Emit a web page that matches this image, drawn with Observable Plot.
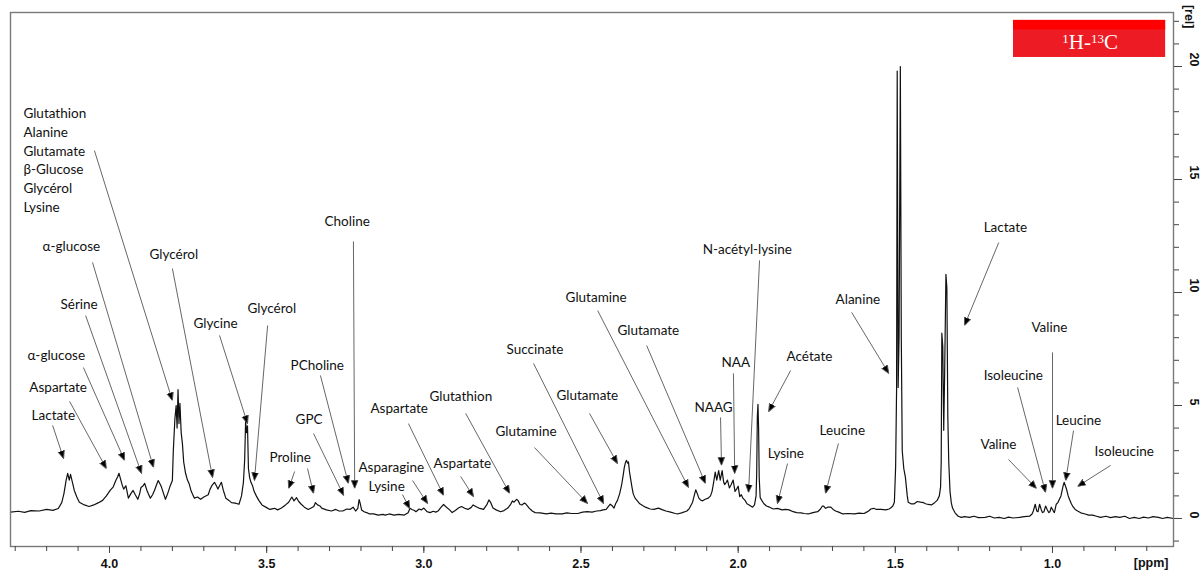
<!DOCTYPE html>
<html>
<head>
<meta charset="utf-8">
<script src="https://cdn.jsdelivr.net/npm/d3@7"></script>
<script src="https://cdn.jsdelivr.net/npm/@observablehq/plot@0.6"></script>
<style>
  html, body { margin: 0; padding: 0; background: #fff; }
  #chart svg { display: block; }
</style>
</head>
<body>
<div id="chart"></div>
<script>
// ---- data: 1H NMR spectrum (ppm, relative intensity) ----
const spectrum = [
  [4.315,0.28],[4.29,0.32],[4.27,0.27],[4.25,0.35],[4.224,0.33],[4.20,0.40],[4.18,0.36],[4.163,0.44],
  [4.152,0.7],[4.145,1.1],[4.138,1.7],[4.133,2.0],[4.128,1.7],[4.124,1.95],[4.118,1.6],[4.112,1.24],
  [4.104,0.95],[4.096,0.72],[4.08,0.6],[4.065,0.53],[4.05,0.6],[4.035,0.7],[4.022,0.8],[4.01,1.0],
  [3.998,1.24],[3.988,1.4],[3.98,1.68],[3.974,1.85],[3.970,2.0],[3.965,1.75],[3.96,1.5],[3.955,1.3],
  [3.948,1.45],[3.94,0.9],[3.932,1.1],[3.925,1.24],[3.918,1.05],[3.91,0.85],[3.904,1.1],[3.90,1.37],
  [3.893,1.45],[3.888,1.55],[3.88,1.2],[3.87,0.9],[3.863,1.05],[3.857,1.24],[3.85,1.5],[3.845,1.68],
  [3.84,1.55],[3.835,1.4],[3.828,1.1],[3.822,0.85],[3.815,1.1],[3.808,1.4],[3.80,1.68],[3.797,3.0],
  [3.792,4.4],[3.788,5.0],[3.785,4.0],[3.782,5.7],[3.779,4.2],[3.776,5.1],[3.772,3.8],[3.768,3.3],
  [3.764,2.5],[3.758,2.0],[3.752,1.7],[3.747,1.55],[3.74,1.2],[3.73,0.9],[3.72,0.95],[3.71,0.85],
  [3.70,0.95],[3.686,1.05],[3.68,1.3],[3.674,1.46],[3.666,1.6],[3.66,1.45],[3.655,1.3],[3.65,1.45],
  [3.644,1.6],[3.638,1.25],[3.63,0.9],[3.62,0.8],[3.612,0.7],[3.60,0.68],[3.588,0.63],[3.58,1.0],
  [3.574,1.6],[3.570,2.6],[3.567,4.3],[3.564,3.8],[3.561,4.1],[3.558,2.2],[3.554,1.8],[3.55,1.6],
  [3.545,1.45],[3.54,1.2],[3.533,1.0],[3.525,0.8],[3.515,0.6],[3.50,0.48],[3.49,0.4],[3.475,0.45],
  [3.465,0.38],[3.453,0.46],[3.44,0.6],[3.43,0.72],[3.42,0.95],[3.413,0.78],[3.405,0.92],[3.398,0.75],
  [3.39,0.63],[3.38,0.5],[3.368,0.4],[3.36,0.45],[3.35,0.53],[3.345,0.7],[3.338,0.6],[3.33,0.55],
  [3.325,0.46],[3.31,0.38],[3.294,0.33],[3.28,0.4],[3.27,0.33],[3.258,0.33],[3.245,0.42],[3.235,0.4],
  [3.225,0.5],[3.217,0.33],[3.21,0.45],[3.206,0.84],[3.203,0.7],[3.198,0.38],[3.19,0.3],[3.18,0.25],
  [3.173,0.2],[3.16,0.2],[3.145,0.15],[3.13,0.18],[3.123,0.15],[3.11,0.2],[3.095,0.15],[3.08,0.18],
  [3.062,0.15],[3.05,0.25],[3.044,0.45],[3.038,0.4],[3.03,0.35],[3.025,0.3],[3.015,0.42],[3.008,0.38],
  [3.0,0.46],[2.99,0.3],[2.98,0.26],[2.97,0.32],[2.962,0.28],[2.955,0.33],[2.945,0.5],[2.937,0.62],
  [2.932,0.55],[2.925,0.46],[2.918,0.38],[2.91,0.26],[2.90,0.35],[2.89,0.46],[2.88,0.53],[2.87,0.45],
  [2.86,0.4],[2.85,0.48],[2.843,0.6],[2.835,0.53],[2.825,0.46],[2.81,0.4],[2.80,0.6],[2.793,0.82],
  [2.787,0.7],[2.78,0.46],[2.77,0.38],[2.756,0.3],[2.745,0.35],[2.733,0.46],[2.725,0.6],[2.718,0.78],
  [2.713,0.72],[2.705,0.85],[2.70,0.79],[2.694,0.62],[2.688,0.6],[2.68,0.68],[2.676,0.65],[2.67,0.55],
  [2.665,0.46],[2.655,0.33],[2.646,0.26],[2.63,0.25],[2.61,0.2],[2.595,0.24],[2.58,0.2],[2.56,0.2],
  [2.545,0.25],[2.53,0.22],[2.51,0.22],[2.495,0.28],[2.48,0.3],[2.465,0.28],[2.45,0.33],[2.438,0.35],
  [2.43,0.38],[2.42,0.4],[2.412,0.55],[2.407,0.63],[2.40,0.55],[2.395,0.46],[2.39,0.65],[2.384,0.8],
  [2.377,1.1],[2.371,1.46],[2.366,1.9],[2.362,2.27],[2.358,2.5],[2.355,2.57],[2.352,2.45],[2.349,2.5],
  [2.346,2.1],[2.343,1.83],[2.338,1.4],[2.334,1.1],[2.328,0.9],[2.322,0.8],[2.313,0.65],[2.304,0.57],
  [2.295,0.5],[2.28,0.42],[2.268,0.4],[2.254,0.46],[2.24,0.38],[2.23,0.33],[2.215,0.28],[2.20,0.22],
  [2.193,0.2],[2.18,0.25],[2.163,0.33],[2.155,0.45],[2.145,0.72],[2.14,1.0],[2.135,1.27],[2.13,1.1],
  [2.125,0.9],[2.12,0.82],[2.113,0.78],[2.105,0.85],[2.095,0.9],[2.088,1.0],[2.083,1.2],[2.078,1.6],
  [2.073,2.05],[2.068,1.7],[2.062,2.12],[2.057,1.7],[2.051,2.12],[2.046,1.6],[2.043,1.5],[2.038,1.6],
  [2.034,1.7],[2.028,1.35],[2.022,1.5],[2.016,1.7],[2.01,1.2],[2.005,1.3],[2.0,1.43],[1.995,0.97],
  [1.99,1.05],[1.985,0.9],[1.978,0.8],[1.972,0.65],[1.965,0.6],[1.96,0.55],[1.954,0.5],[1.948,0.6],
  [1.943,1.0],[1.941,2.0],[1.939,4.5],[1.937,5.05],[1.935,4.0],[1.933,1.8],[1.93,0.93],[1.925,0.8],
  [1.918,0.65],[1.91,0.55],[1.90,0.5],[1.888,0.42],[1.875,0.45],[1.86,0.38],[1.85,0.4],[1.838,0.38],
  [1.825,0.3],[1.814,0.26],[1.80,0.25],[1.79,0.22],[1.777,0.2],[1.765,0.25],[1.755,0.28],[1.747,0.3],
  [1.738,0.42],[1.732,0.55],[1.728,0.55],[1.722,0.45],[1.715,0.5],[1.705,0.5],[1.698,0.4],[1.69,0.33],
  [1.68,0.28],[1.667,0.2],[1.65,0.22],[1.63,0.2],[1.615,0.24],[1.60,0.22],[1.594,0.26],[1.585,0.33],
  [1.578,0.42],[1.569,0.45],[1.56,0.4],[1.545,0.4],[1.53,0.38],[1.52,0.42],[1.515,0.46],[1.508,0.55],
  [1.503,0.72],[1.499,2.3],[1.496,5.7],[1.494,19.8],[1.491,5.8],[1.488,8.1],[1.484,20.0],[1.481,8.0],
  [1.478,3.0],[1.473,2.2],[1.468,1.83],[1.462,1.0],[1.459,0.72],[1.45,0.65],[1.44,0.65],[1.43,0.75],
  [1.42,0.72],[1.41,0.7],[1.404,0.65],[1.395,0.62],[1.385,0.6],[1.375,0.7],[1.367,0.8],[1.36,1.0],
  [1.356,1.4],[1.354,2.5],[1.352,8.2],[1.349,7.6],[1.346,3.9],[1.343,6.5],[1.339,10.8],[1.336,10.2],
  [1.333,4.5],[1.33,2.5],[1.326,1.2],[1.322,0.7],[1.318,0.46],[1.31,0.25],[1.30,0.1],[1.29,0.05],
  [1.28,0.08],[1.264,0.05],[1.25,0.1],[1.235,0.04],[1.214,0.05],[1.20,0.1],[1.185,0.02],[1.17,0.05],
  [1.153,0.0],[1.14,0.06],[1.125,0.02],[1.105,0.05],[1.09,0.08],[1.073,0.1],[1.065,0.2],[1.061,0.33],
  [1.055,0.63],[1.05,0.33],[1.046,0.3],[1.041,0.63],[1.036,0.4],[1.032,0.26],[1.027,0.3],[1.022,0.55],
  [1.017,0.4],[1.012,0.26],[1.008,0.3],[1.004,0.5],[0.998,0.35],[0.994,0.26],[0.988,0.63],[0.983,0.7],
  [0.978,0.85],[0.973,1.0],[0.97,1.2],[0.966,1.45],[0.963,1.6],[0.959,1.45],[0.955,1.28],[0.95,1.0],
  [0.946,0.85],[0.94,0.65],[0.936,0.55],[0.928,0.4],[0.92,0.33],[0.91,0.25],[0.896,0.2],[0.885,0.15],
  [0.872,0.15],[0.86,0.1],[0.847,0.05],[0.83,0.1],[0.815,0.04],[0.80,0.08],[0.786,0.05],[0.77,0.1],
  [0.755,0.0],[0.74,0.05],[0.724,0.0],[0.71,0.06],[0.695,0.02],[0.68,0.08],[0.663,0.05],[0.65,0.0],
  [0.635,0.05],[0.615,0.0]
];

// metabolite labels: [text, ppm, rel]
const labels = [
  ["Glutathion",4.274,17.92],["Alanine",4.274,17.08],["Glutamate",4.274,16.24],
  ["β-Glucose",4.274,15.44],["Glycérol",4.274,14.60],["Lysine",4.274,13.76],
  ["α-glucose",4.213,12.04],["Sérine",4.156,9.47],["α-glucose",4.261,7.21],
  ["Aspartate",4.255,5.80],["Lactate",4.248,4.56],["Glycérol",3.873,11.68],
  ["Choline",3.316,13.14],["Glycine",3.733,8.63],["Glycérol",3.561,9.29],
  ["PCholine",3.424,6.77],["GPC",3.408,4.38],["Proline",3.491,2.70],
  ["Asparagine",3.208,2.26],["Lysine",3.176,1.42],["Aspartate",3.170,4.87],
  ["Glutathion",2.982,5.40],["Aspartate",2.969,2.43],["Glutamine",2.772,3.85],
  ["Succinate",2.737,7.48],["Glutamate",2.578,5.44],["Glutamine",2.549,9.78],
  ["Glutamate",2.384,8.32],["NAAG",2.139,4.91],["NAA",2.053,6.90],
  ["N-acétyl-lysine",2.113,11.90],["Acétate",1.846,7.17],["Lysine",1.906,2.88],
  ["Leucine",1.741,3.89],["Alanine",1.690,9.69],["Lactate",1.219,12.88],
  ["Valine",1.067,8.45],["Isoleucine",1.219,6.33],["Leucine",0.990,4.34],
  ["Valine",1.229,3.27],["Isoleucine",0.866,2.96]
];

// annotation arrows: [ppm from, rel from, ppm to, rel to]
const arrows = [
  [4.048,16.28,3.800,5.22],[4.054,11.33,3.860,2.26],[4.076,8.98,3.898,1.99],
  [4.083,6.68,3.952,2.57],[4.127,5.18,4.010,2.21],[4.181,4.12,4.146,2.65],
  [3.800,11.06,3.672,1.81],[3.224,12.26,3.220,1.33],[3.650,8.10,3.561,4.20],
  [3.497,8.54,3.539,1.68],[3.329,6.33,3.240,1.55],[3.351,3.76,3.255,1.02],
  [3.411,2.08,3.430,1.33],[3.370,2.21,3.351,1.11],[3.036,1.68,2.988,0.66],
  [3.068,1.06,3.045,0.44],[3.049,4.20,2.937,1.02],[2.867,4.65,2.727,1.11],
  [2.883,1.86,2.842,0.97],[2.648,3.14,2.479,0.66],[2.651,6.86,2.428,0.66],
  [2.473,4.65,2.384,2.43],[2.447,9.20,2.158,1.37],[2.291,7.65,2.104,1.55],
  [2.056,4.47,2.053,2.35],[2.015,6.42,2.011,1.99],[1.932,11.42,1.967,1.15],
  [1.833,6.55,1.903,4.73],[1.843,2.43,1.875,0.66],[1.681,3.32,1.722,1.11],
  [1.639,9.12,1.521,6.42],[1.171,12.21,1.280,8.54],[1.000,7.35,1.000,1.33],
  [1.111,5.80,1.022,1.15],[0.933,3.89,0.958,1.68],[1.140,2.61,1.051,1.33],
  [0.815,2.35,0.920,1.42]
];

const xLabelTicks = [4.0, 3.5, 3.0, 2.5, 2.0, 1.5, 1.0];
const yLabelTicks = [0, 5, 10, 15, 20];
const xMinorTicks = d3.range(7, 44).map(d => d / 10);
const yMinorTicks = d3.range(-1, 23);
const badgeText = "¹H-¹³C";
const badgeParts = [["1", true], ["H-", false], ["13", true], ["C", false]];
const badge = {x1: 1.124, x2: 0.640, y1: 20.40, y2: 22.04, band: 21.62, tx: 0.880, ty: 21.10};

// filled arrowhead marker
function headMarker(color, context) {
  const doc = (context && context.document) || document;
  const ns = "http://www.w3.org/2000/svg";
  const m = doc.createElementNS(ns, "marker");
  m.setAttribute("viewBox", "-8 -4 8 8");
  m.setAttribute("markerWidth", 8);
  m.setAttribute("markerHeight", 8);
  m.setAttribute("markerUnits", "userSpaceOnUse");
  m.setAttribute("orient", "auto");
  const p = doc.createElementNS(ns, "path");
  p.setAttribute("d", "M-8,-3.3L0,0L-8,3.3Z");
  p.setAttribute("fill", "#000");
  m.appendChild(p);
  return m;
}

const tickFont = {fontFamily: "Liberation Sans, Arial, sans-serif", fontWeight: "bold", fontSize: 12.5};
const labelFont = {fontFamily: "Lato, Calibri, sans-serif", fontSize: 13.5, fill: "#111"};

function build(marker) {
  return Plot.plot({
    width: 1201,
    height: 577,
    marginLeft: 10,
    marginRight: 28,
    marginTop: 12,
    marginBottom: 31,
    style: {background: "#fff", overflow: "visible"},
    x: {domain: [4.315, 0.615]},
    y: {domain: [-1.24, 22.39]},
    marks: [
      Plot.rect([badge], {x1: "x1", x2: "x2", y1: "y1", y2: "y2", fill: "#ed1c24"}),
      Plot.rect([badge], {x1: "x1", x2: "x2", y1: "band", y2: "y2", fill: "#ff0000"}),
      Plot.text([badgeText], {x: badge.tx, y: badge.ty, text: d => d, fill: "#fff",
        fontFamily: "Liberation Serif, Times New Roman, serif", fontSize: 21, className: "badge-text"}),
      Plot.line(spectrum, {x: d => d[0], y: d => d[1], stroke: "#111", strokeWidth: 1.2}),
      Plot.link(arrows, {x1: d => d[0], y1: d => d[1], x2: d => d[2], y2: d => d[3],
        stroke: "#555", strokeWidth: 0.9, markerEnd: marker}),
      Plot.text(labels, {x: d => d[1], y: d => d[2], text: d => d[0], textAnchor: "start", ...labelFont}),
      Plot.frame({stroke: "#7a7a7a", strokeWidth: 1.4}),
      Plot.axisX({ticks: xMinorTicks, tickSize: 5, tickFormat: () => "", label: null, stroke: "#444"}),
      Plot.axisX({ticks: xLabelTicks, tickSize: 7, tickPadding: 6, tickFormat: d3.format(".1f"),
        label: null, stroke: "#444", fill: "#111", ...tickFont}),
      Plot.axisY({anchor: "right", ticks: yMinorTicks, tickSize: 5, tickFormat: () => "", label: null, stroke: "#444"}),
      Plot.axisY({anchor: "right", ticks: yLabelTicks, tickSize: 8, tickFormat: () => "", label: null, stroke: "#444"}),
      Plot.text(yLabelTicks, {y: d => d, text: d => `${d}`, frameAnchor: "right", dx: 20, rotate: 90,
        fill: "#111", ...tickFont}),
      Plot.text(["[rel]"], {text: d => d, frameAnchor: "top-right", dx: 20, dy: 16, rotate: 90,
        fill: "#111", ...tickFont}),
      Plot.text(["[ppm]"], {text: d => d, frameAnchor: "bottom-right", dx: -5, dy: 20, textAnchor: "end",
        fill: "#111", ...tickFont})
    ]
  });
}

let chart;
try { chart = build(headMarker); } catch (e) { chart = build("arrow"); }

// typeset the badge with real superscripts
d3.select(chart).selectAll(".badge-text text").each(function () {
  const t = d3.select(this);
  t.text(null);
  let shifted = false;
  for (const [s, sup] of badgeParts) {
    const ts = t.append("tspan").text(s);
    if (sup) { ts.attr("font-size", 13).attr("dy", shifted ? null : "-0.45em"); shifted = true; }
    else { ts.attr("dy", shifted ? "0.3em" : null); shifted = false; }
  }
});

document.getElementById("chart").appendChild(chart);
</script>
</body>
</html>
